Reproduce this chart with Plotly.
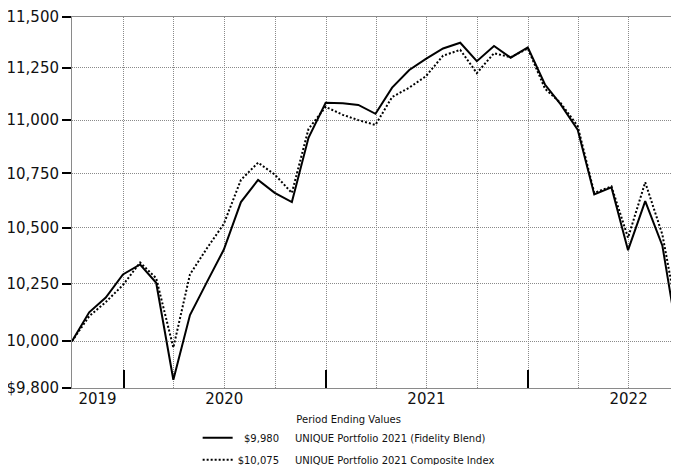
import math
import plotly.graph_objects as go

dates = ["2019-09-30", "2019-10-31", "2019-11-30", "2019-12-31",
         "2020-01-31", "2020-02-29", "2020-03-31", "2020-04-30", "2020-05-31", "2020-06-30",
         "2020-07-31", "2020-08-31", "2020-09-30", "2020-10-31", "2020-11-30", "2020-12-31",
         "2021-01-31", "2021-02-28", "2021-03-31", "2021-04-30", "2021-05-31", "2021-06-30",
         "2021-07-31", "2021-08-31", "2021-09-30", "2021-10-31", "2021-11-30", "2021-12-31",
         "2022-01-31", "2022-02-28", "2022-03-31", "2022-04-30", "2022-05-31", "2022-06-30",
         "2022-07-31", "2022-08-31", "2022-09-30"]

fund = [10000, 10125, 10190, 10292, 10336, 10255, 9835, 10113, 10260, 10402,
        10618, 10720, 10660, 10618, 10916, 11082, 11080, 11072, 11030, 11155,
        11240, 11294, 11345, 11373, 11283, 11357, 11300, 11350, 11170, 11076,
        10955, 10653, 10686, 10400, 10622, 10420, 9980]

index = [10000, 10108, 10170, 10245, 10345, 10275, 9972, 10292, 10410, 10518,
         10720, 10800, 10745, 10660, 10958, 11063, 11025, 11000, 10977, 11110,
         11155, 11210, 11310, 11338, 11225, 11322, 11302, 11345, 11150, 11082,
         10972, 10660, 10690, 10456, 10709, 10470, 10075]

fund_name = "UNIQUE Portfolio 2021 (Fidelity Blend)"
index_name = "UNIQUE Portfolio 2021 Composite Index"
fund_end = "\u2007$9,980"
index_end = "$10,075"

year_label_dates = ["2019-11-15", "2020-07-01", "2021-07-01", "2022-07-01"]
year_labels = ["2019", "2020", "2021", "2022"]

y_ticks = [9800, 10000, 10250, 10500, 10750, 11000, 11250, 11500]
y_ticktext = ["$9,800", "10,000", "10,250", "10,500", "10,750", "11,000", "11,250", "11,500"]

x_range = ["2019-09-30", "2022-09-30"]
gap = "\u00a0" * 5

fig = go.Figure()
fig.add_trace(go.Scatter(x=dates, y=fund, mode="lines", legendgroup="fund",
                         name=fund_end + gap + fund_name,
                         line=dict(color="#000000", width=2)))
fig.add_trace(go.Scatter(x=dates, y=index, mode="lines", xaxis="x2", legendgroup="index",
                         name=index_end + gap + index_name,
                         line=dict(color="#000000", width=2, dash="2px,2px")))

grid = "#8a8a8a"
gdash = "1px,1px"
fig.update_layout(
    width=671, height=457,
    margin=dict(l=64, r=0, t=9, b=77, autoexpand=False),
    paper_bgcolor="white", plot_bgcolor="white",
    font=dict(family="DejaVu Sans", size=15, color="#111111"),
    showlegend=True,
    legend=dict(
        x=0.207, xanchor="left", y=-0.06, yanchor="top",
        font=dict(size=10, family="DejaVu Sans", color="#111111"),
        title=dict(text="Period Ending Values", side="top center",
                   font=dict(size=10, family="DejaVu Sans")),
        bgcolor="rgba(0,0,0,0)", traceorder="grouped", tracegroupgap=3,
    ),
    xaxis=dict(
        type="date", range=x_range, automargin=False,
        tick0="2019-01-01", dtick="M12", showticklabels=False,
        ticks="inside", ticklen=18, tickwidth=2, tickcolor="#000000",
        showgrid=True, gridcolor=grid, griddash=gdash, gridwidth=1,
        minor=dict(dtick="M3", tick0="2019-01-01", showgrid=True,
                   gridcolor=grid, griddash=gdash, gridwidth=1, ticklen=0),
        showline=True, linecolor=grid, linewidth=1, mirror=True,
        zeroline=False,
    ),
    xaxis2=dict(
        type="date", range=x_range, overlaying="x", anchor="y", side="bottom",
        tickmode="array", tickvals=year_label_dates, ticktext=year_labels,
        ticks="", showgrid=False, showline=False, zeroline=False,
        automargin=False, tickfont=dict(size=15),
    ),
    yaxis=dict(
        type="log", automargin=False,
        range=[math.log10(9800), math.log10(11500)],
        tickvals=y_ticks, ticktext=y_ticktext,
        ticks="outside", ticklen=9, tickwidth=2, tickcolor="#000000",
        showgrid=True, gridcolor=grid, griddash=gdash, gridwidth=1,
        showline=True, linecolor=grid, linewidth=1,
        zeroline=False, tickfont=dict(size=15),
    ),
)

fig.write_html("out.html")
